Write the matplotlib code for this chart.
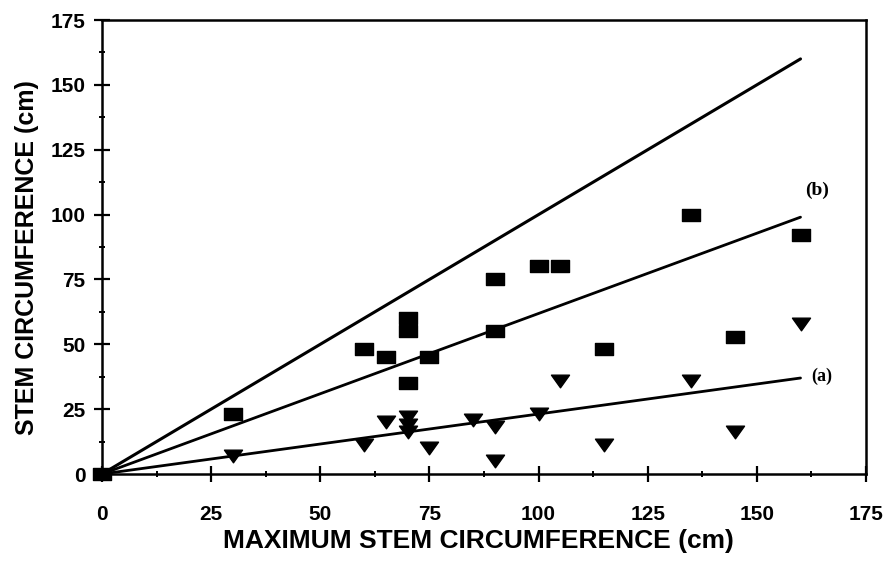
import matplotlib.pyplot as plt
import numpy as np
from matplotlib.path import Path
from matplotlib.ticker import MultipleLocator

# measured stems: squares = series (b), triangles = series (a)
max_circ_b = [0, 30, 60, 65, 70, 70, 70, 75, 90, 90, 100, 105, 115, 135, 145, 160]
stem_circ_b = [0, 23, 48, 45, 60, 55, 35, 45, 75, 55, 80, 80, 48, 100, 53, 92]

max_circ_a = [30, 60, 65, 70, 70, 70, 75, 85, 90, 90, 100, 105, 115, 135, 145, 160]
stem_circ_a = [7, 11, 20, 22, 19, 16, 10, 21, 18, 5, 23, 36, 11, 36, 16, 58]

# fitted lines and the 1:1 line
fit_x = [0, 160]
one_to_one = [0, 160]
fit_b = [0, 99]
fit_a = [0, 37]

plt.rcParams['font.family'] = ['Liberation Sans', 'DejaVu Sans']

# flattened box and down-triangle markers
box = Path([(-1, -0.62), (1, -0.62), (1, 0.62), (-1, 0.62), (-1, -0.62)],
           [Path.MOVETO, Path.LINETO, Path.LINETO, Path.LINETO, Path.CLOSEPOLY])
tri = Path([(-1, 0.7), (1, 0.7), (0, -0.7), (-1, 0.7)],
           [Path.MOVETO, Path.LINETO, Path.LINETO, Path.CLOSEPOLY])

fig = plt.figure(figsize=(8.85, 5.62), dpi=100)
ax = fig.add_axes([102 / 885, 1 - 474 / 562, 764 / 885, 454 / 562])

ax.plot(fit_x, one_to_one, color='black', lw=2.2, solid_capstyle='round')
ax.plot(fit_x, fit_b, color='black', lw=2.0, solid_capstyle='round')
ax.plot(fit_x, fit_a, color='black', lw=2.0, solid_capstyle='round')

ax.plot(max_circ_b, stem_circ_b, linestyle='none', marker=box, markersize=13.5,
        color='black', clip_on=False)
ax.plot(max_circ_a, stem_circ_a, linestyle='none', marker=tri, markersize=13,
        color='black', clip_on=False)

ax.text(161, 109.5, '(b)', family='Liberation Serif', fontweight='bold', fontsize=14,
        va='center', ha='left')
ax.text(162.5, 37.5, '(a)', family='Liberation Serif', fontweight='bold', fontsize=13,
        va='center', ha='left')

ax.set_xlim(0, 175)
ax.set_ylim(0, 175)
for axis in (ax.xaxis, ax.yaxis):
    axis.set_major_locator(MultipleLocator(25))
    axis.set_minor_locator(MultipleLocator(12.5))

for side in ax.spines.values():
    side.set_linewidth(1.8)

ax.tick_params(which='major', direction='inout', length=12, width=1.6, labelsize=15)
ax.tick_params(which='minor', direction='inout', length=5, width=1.4)
ax.tick_params(axis='x', which='major', pad=16)
ax.tick_params(axis='y', which='major', pad=6)
for lab in ax.get_xticklabels() + ax.get_yticklabels():
    lab.set_fontweight('bold')

ax.set_xlabel('MAXIMUM STEM CIRCUMFERENCE (cm)', fontsize=19, fontweight='bold')
ax.set_ylabel('STEM CIRCUMFERENCE (cm)', fontsize=18, fontweight='bold')
ax.xaxis.set_label_coords(0.493, -0.122)
ax.yaxis.set_label_coords(-0.083, 0.476)

fig.savefig('out.png', dpi=100)
